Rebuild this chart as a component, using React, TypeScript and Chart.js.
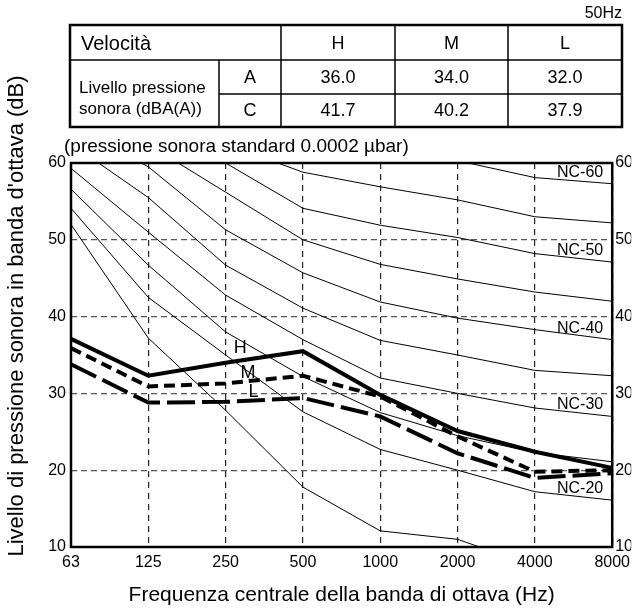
import React, { useEffect, useRef } from 'react';
import { Chart, registerables } from 'chart.js';

Chart.register(...registerables);

// ---------- data ----------
const frequencies = ['63', '125', '250', '500', '1000', '2000', '4000', '8000'];
const yMin = 10;
const yMax = 60;
const yStep = 10;

const seriesH = [37.1, 32.3, 34.0, 35.5, 29.8, 25.1, 22.4, 20.3];
const seriesM = [35.9, 30.9, 31.3, 32.3, 29.6, 24.4, 19.8, 20.0];
const seriesL = [33.8, 28.8, 28.9, 29.4, 27.0, 22.2, 19.0, 19.6];

const nc60 = [78, 72, 68, 64, 62, 60.3, 58.1, 57.3];
const nc55 = [75, 68, 62.5, 58.8, 56.9, 55.2, 53.0, 52.2];
const nc50 = [72, 65, 60.0, 54.1, 51.9, 50.3, 48.2, 47.1];
const nc45 = [68, 62.4, 56.2, 50.0, 46.8, 44.9, 43.2, 42.0];
const nc40 = [65, 59.5, 51.3, 45.7, 41.9, 39.8, 38.3, 37.0];
const nc35 = [62.5, 55.5, 46.7, 41.1, 36.9, 35.0, 33.0, 32.3];
const nc30 = [59.3, 51.0, 42.8, 37.0, 32.0, 30.0, 28.1, 27.0];
const nc25 = [56.6, 46.7, 38.0, 32.2, 27.5, 24.5, 22.3, 21.1];
const nc20 = [54.1, 42.5, 35.0, 27.6, 22.7, 20.0, 17.2, 16.1];
const nc15 = [52.0, 37.2, 27.8, 17.8, 12.1, 11.0, 7.5, 6.5];

const ncCurves = [nc60, nc55, nc50, nc45, nc40, nc35, nc30, nc25, nc20, nc15];
const ncNames = ['NC-60', 'NC-55', 'NC-50', 'NC-45', 'NC-40', 'NC-35', 'NC-30', 'NC-25', 'NC-20', 'NC-15'];
const ncLabelled = ['NC-60', 'NC-50', 'NC-40', 'NC-30', 'NC-20'];

const seriesNames = ['H', 'M', 'L'];
// anchor of the H / M / L captions in data units (category index, dB)
const captionIndex = [2.19, 2.29, 2.36];
const captionValue = [35.9, 32.7, 30.2];

const tableTitle = 'Velocità';
const tableSpeeds = ['H', 'M', 'L'];
const tableRowTitle = ['Livello pressione', 'sonora (dBA(A))'];
const tableRowKeys = ['A', 'C'];
const tableValuesA = ['36.0', '34.0', '32.0'];
const tableValuesC = ['41.7', '40.2', '37.9'];
const freqNote = '50Hz';
const refNote = '(pressione sonora standard 0.0002 µbar)';
const xTitle = 'Frequenza centrale della banda di ottava (Hz)';
const yTitle = "Livello di pressione sonora in banda d'ottava (dB)";

// ---------- styling ----------
const FONT = '"Liberation Sans", Arial, Helvetica, sans-serif';
const f = (px: number) => `${px}px ${FONT}`;

const decorPlugin = {
  id: 'decor',
  afterDraw(chart: any) {
    const ctx: CanvasRenderingContext2D = chart.ctx;
    const { left, right, top, bottom } = chart.chartArea;
    const xs = chart.scales.x;
    const ys = chart.scales.y;
    ctx.save();
    ctx.setLineDash([]);

    // plot frame
    ctx.strokeStyle = '#000';
    ctx.lineWidth = 2.5;
    ctx.strokeRect(left, top, right - left, bottom - top);

    ctx.fillStyle = '#000';

    // NC labels
    ctx.font = f(16);
    ctx.textAlign = 'right';
    ctx.textBaseline = 'middle';
    const last = frequencies.length - 1;
    ncLabelled.forEach((name) => {
      const curve = ncCurves[ncNames.indexOf(name)];
      const y = ys.getPixelForValue(curve[last]) - 11.5;
      const x = xs.getPixelForValue(last) - 9;
      ctx.fillText(name, x, y);
    });

    // H / M / L captions
    ctx.font = f(18);
    ctx.textAlign = 'center';
    seriesNames.forEach((n, i) => {
      ctx.fillText(n, xs.getPixelForValue(captionIndex[i]), ys.getPixelForValue(captionValue[i]));
    });

    // axis titles
    ctx.font = f(21);
    ctx.textAlign = 'center';
    ctx.fillText(xTitle, (left + right) / 2, 595);
    ctx.save();
    ctx.font = f(22);
    ctx.translate(17, 316);
    ctx.rotate(-Math.PI / 2);
    ctx.fillText(yTitle, 0, 0);
    ctx.restore();

    // notes
    ctx.font = f(19);
    ctx.textAlign = 'left';
    ctx.fillText(refNote, 64, 147);
    ctx.font = f(16);
    ctx.textAlign = 'right';
    ctx.fillText(freqNote, 622, 14);

    // table
    const cx = [70, 219, 281, 395, 508, 622];
    const ry = [25, 60, 94, 127];
    ctx.strokeStyle = '#000';
    ctx.lineWidth = 1.5;
    const line = (x1: number, y1: number, x2: number, y2: number) => {
      ctx.beginPath();
      ctx.moveTo(x1, y1);
      ctx.lineTo(x2, y2);
      ctx.stroke();
    };
    line(cx[0], ry[1], cx[5], ry[1]);
    line(cx[1], ry[2], cx[5], ry[2]);
    line(cx[1], ry[1], cx[1], ry[3]);
    line(cx[2], ry[0], cx[2], ry[3]);
    line(cx[3], ry[0], cx[3], ry[3]);
    line(cx[4], ry[0], cx[4], ry[3]);
    ctx.lineWidth = 2.5;
    ctx.strokeRect(cx[0], ry[0], cx[5] - cx[0], ry[3] - ry[0]);

    ctx.textBaseline = 'middle';
    ctx.textAlign = 'left';
    ctx.font = f(20);
    ctx.fillText(tableTitle, 81, 44);
    ctx.font = f(17);
    ctx.fillText(tableRowTitle[0], 79, 88);
    ctx.fillText(tableRowTitle[1], 79, 109);
    ctx.textAlign = 'center';
    ctx.font = f(18);
    tableSpeeds.forEach((s, i) => ctx.fillText(s, (cx[i + 2] + cx[i + 3]) / 2, 44));
    ctx.fillText(tableRowKeys[0], (cx[1] + cx[2]) / 2, 78);
    ctx.fillText(tableRowKeys[1], (cx[1] + cx[2]) / 2, 111);
    tableValuesA.forEach((v, i) => ctx.fillText(v, (cx[i + 2] + cx[i + 3]) / 2, 78));
    tableValuesC.forEach((v, i) => ctx.fillText(v, (cx[i + 2] + cx[i + 3]) / 2, 111));

    ctx.restore();
  },
};

export default function App() {
  const canvasRef = useRef<HTMLCanvasElement | null>(null);

  useEffect(() => {
    if (!canvasRef.current) return;
    const ncSets = ncCurves.map((c, i) => ({
      label: ncNames[i],
      data: c,
      borderColor: '#000',
      borderWidth: 1,
      pointRadius: 0,
      fill: false,
      order: 10,
    }));
    const chart = new Chart(canvasRef.current, {
      type: 'line',
      data: {
        labels: frequencies,
        datasets: [
          { label: 'H', data: seriesH, borderColor: '#000', borderWidth: 4, pointRadius: 0, fill: false, order: 1 },
          { label: 'M', data: seriesM, borderColor: '#000', borderWidth: 4, borderDash: [11, 6], pointRadius: 0, fill: false, order: 2 },
          { label: 'L', data: seriesL, borderColor: '#000', borderWidth: 4, borderDash: [28, 7], pointRadius: 0, fill: false, order: 3 },
          ...ncSets,
        ],
      },
      options: {
        responsive: false,
        animation: false,
        events: [],
        layout: { padding: { top: 163, left: 0, right: 0, bottom: 0 } },
        elements: { line: { tension: 0 }, point: { radius: 0 } },
        plugins: { legend: { display: false }, tooltip: { enabled: false }, title: { display: false } },
        scales: {
          x: {
            type: 'category',
            offset: false,
            grid: { color: '#222', lineWidth: 1.2, drawTicks: false },
            border: { display: false, dash: [6, 5] },
            ticks: { font: { size: 16, family: FONT }, color: '#000', padding: 6, maxRotation: 0, autoSkip: false },
            afterFit: (s: any) => { s.height = 65; },
          },
          y: {
            position: 'left',
            min: yMin,
            max: yMax,
            grid: { color: '#555', lineWidth: 1.2, drawTicks: false },
            border: { display: false, dash: [6, 4] },
            ticks: { stepSize: yStep, font: { size: 16, family: FONT }, color: '#000', padding: 5 },
            afterFit: (s: any) => { s.width = 71; },
          },
          y2: {
            position: 'right',
            min: yMin,
            max: yMax,
            grid: { display: false, drawTicks: false },
            border: { display: false },
            ticks: { stepSize: yStep, font: { size: 16, family: FONT }, color: '#000', padding: 3 },
            afterFit: (s: any) => { s.width = 19; },
          },
        },
      },
      plugins: [decorPlugin],
    } as any);
    return () => chart.destroy();
  }, []);

  return (
    <div style={{ position: 'absolute', left: 0, top: 0, width: 636, height: 612, background: '#fff' }}>
      <canvas ref={canvasRef} width={636} height={612} style={{ display: 'block' }} />
    </div>
  );
}
